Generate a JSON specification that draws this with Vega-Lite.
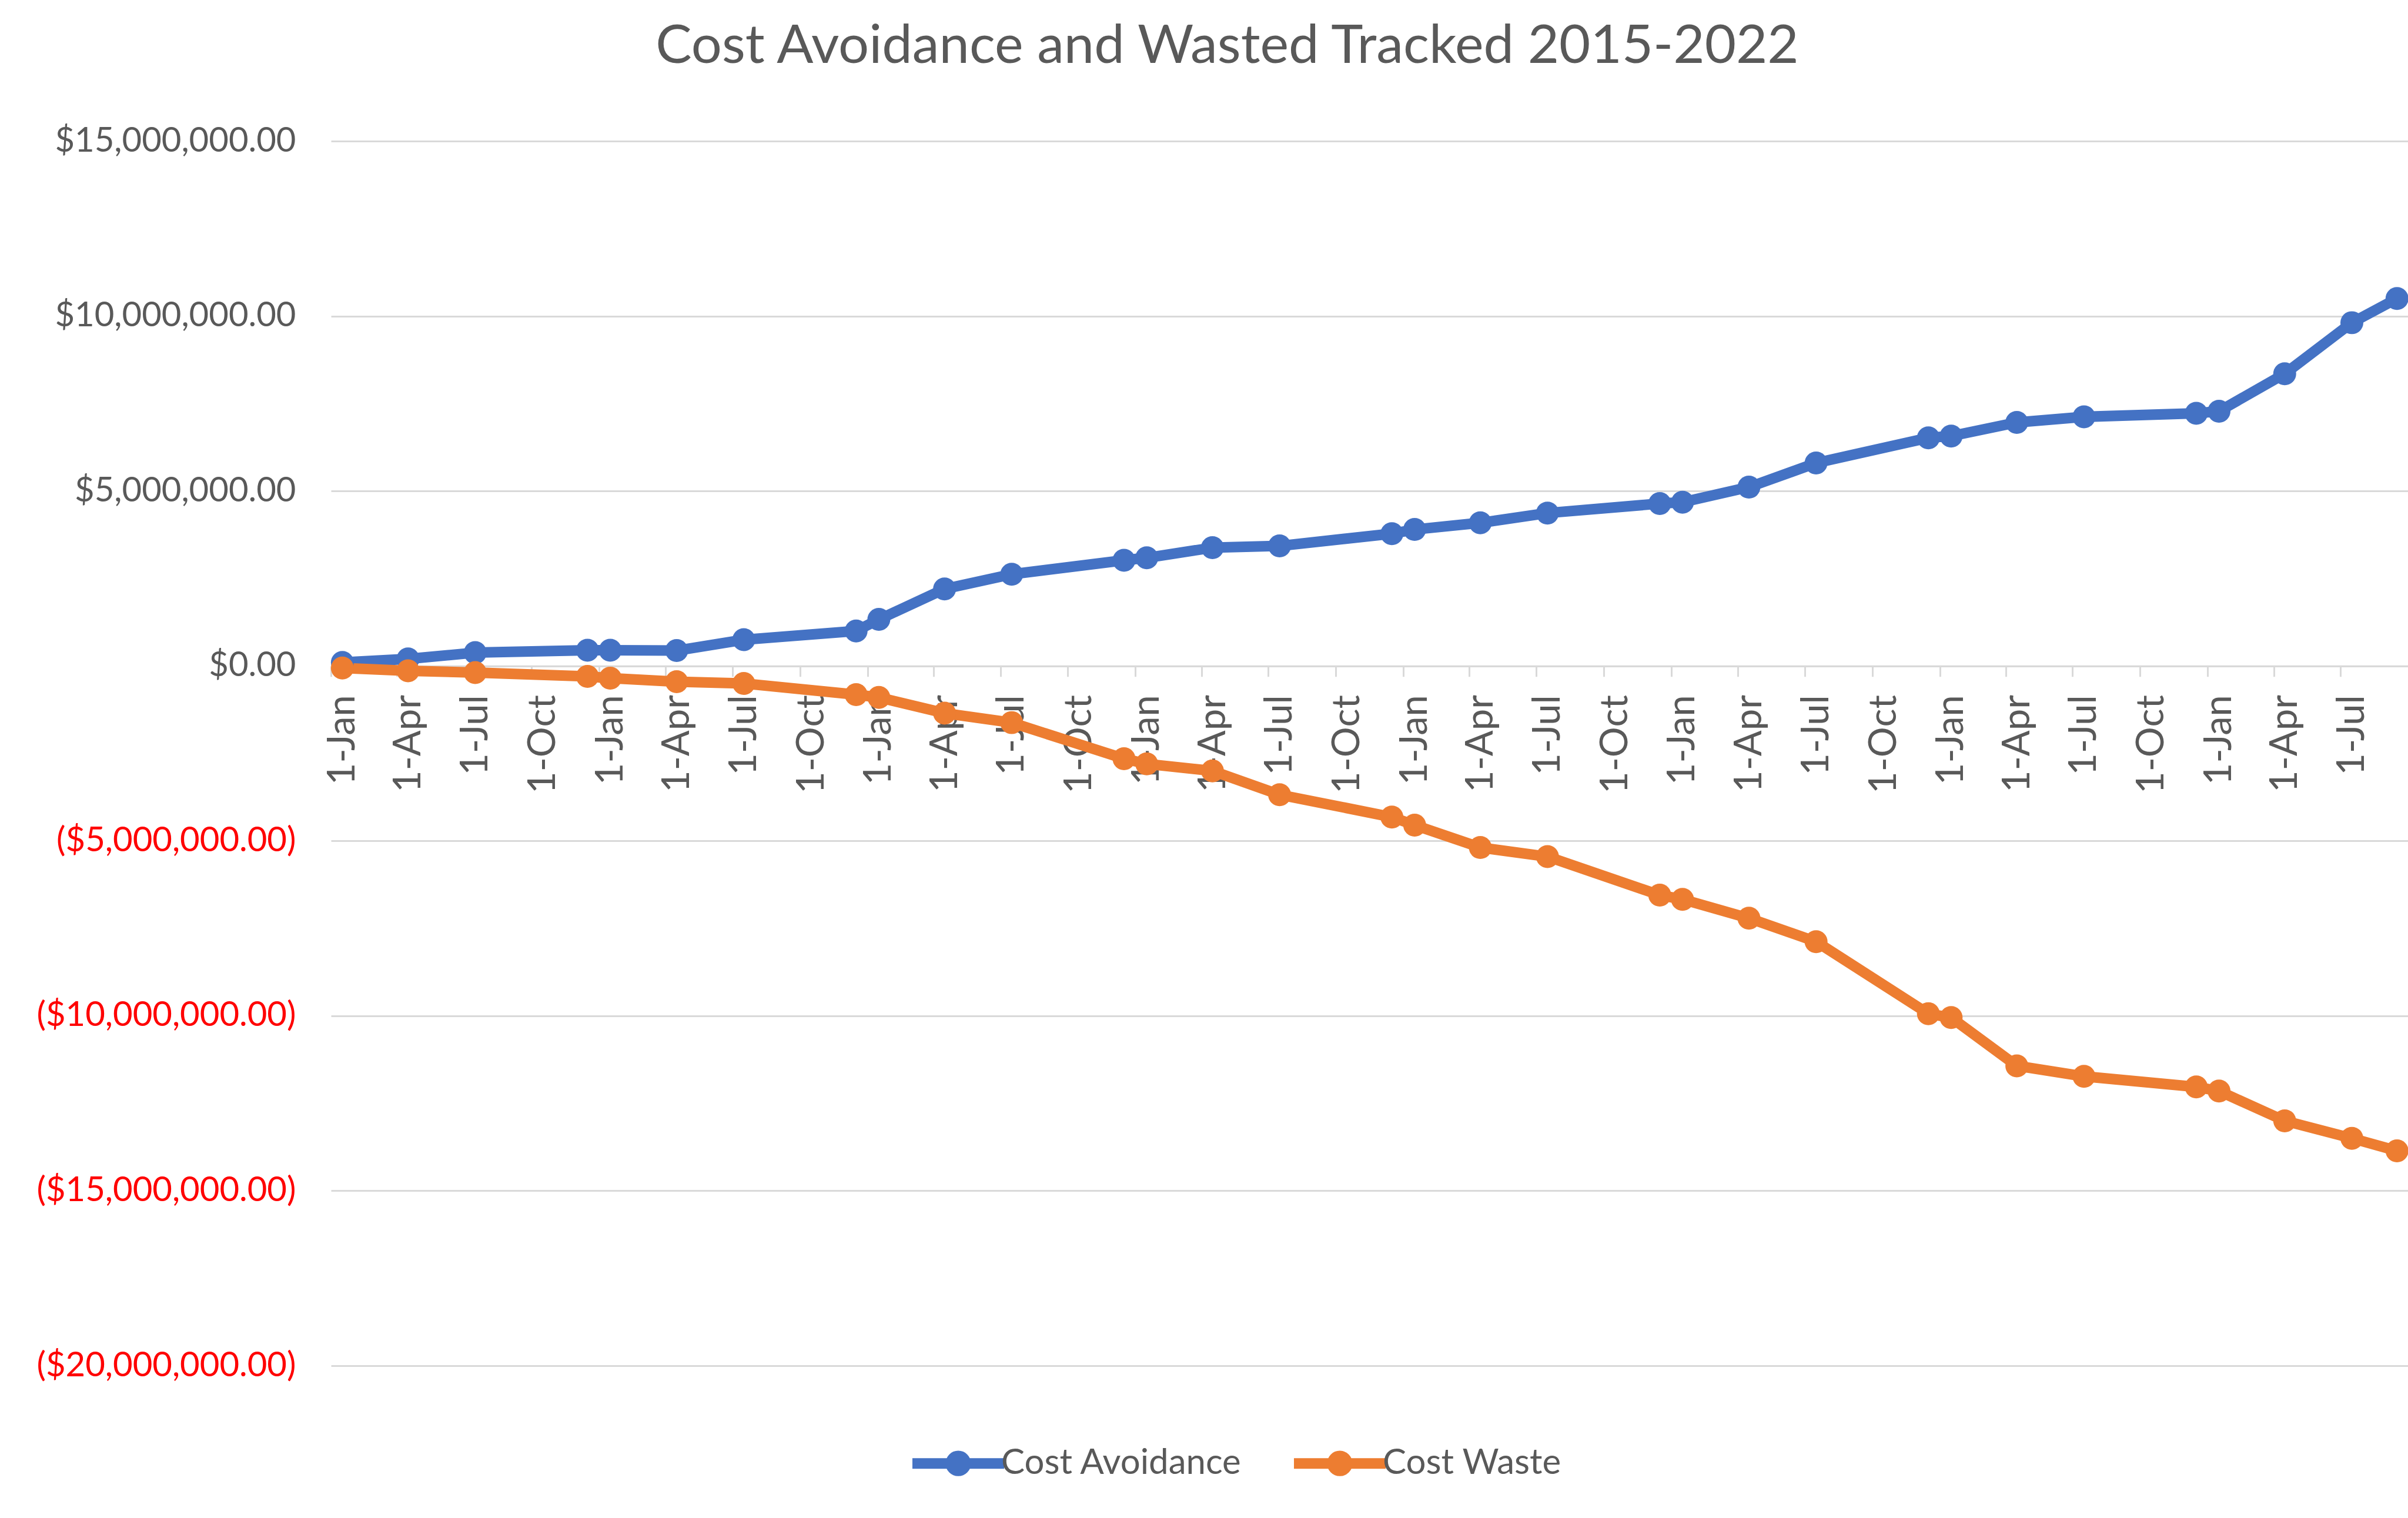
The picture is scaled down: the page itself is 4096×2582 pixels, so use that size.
{
  "$schema": "https://vega.github.io/schema/vega-lite/v6.json",
  "autosize": {"type": "none"},
  "padding": {"left": 563, "top": 240, "right": 0, "bottom": 259},
  "width": 3533,
  "height": 2083,
  "background": "white",
  "title": {
    "text": "Cost Avoidance and Wasted Tracked 2015-2022",
    "font": "Lato",
    "fontSize": 92,
    "fontWeight": "normal",
    "color": "#595959",
    "anchor": "middle",
    "baseline": "alphabetic",
    "dx": -242,
    "offset": 12,
    "limit": 0
  },
  "data": {
    "values": [
      {"date": "2015/01/01", "series": "Cost Avoidance", "value": 100000},
      {"date": "2015/04/01", "series": "Cost Avoidance", "value": 200000},
      {"date": "2015/07/01", "series": "Cost Avoidance", "value": 380000},
      {"date": "2015/12/01", "series": "Cost Avoidance", "value": 450000},
      {"date": "2016/01/01", "series": "Cost Avoidance", "value": 450000},
      {"date": "2016/04/01", "series": "Cost Avoidance", "value": 440000},
      {"date": "2016/07/01", "series": "Cost Avoidance", "value": 750000},
      {"date": "2016/12/01", "series": "Cost Avoidance", "value": 1000000},
      {"date": "2017/01/01", "series": "Cost Avoidance", "value": 1330000},
      {"date": "2017/04/01", "series": "Cost Avoidance", "value": 2200000},
      {"date": "2017/07/01", "series": "Cost Avoidance", "value": 2620000},
      {"date": "2017/12/01", "series": "Cost Avoidance", "value": 3020000},
      {"date": "2018/01/01", "series": "Cost Avoidance", "value": 3090000},
      {"date": "2018/04/01", "series": "Cost Avoidance", "value": 3380000},
      {"date": "2018/07/01", "series": "Cost Avoidance", "value": 3430000},
      {"date": "2018/12/01", "series": "Cost Avoidance", "value": 3780000},
      {"date": "2019/01/01", "series": "Cost Avoidance", "value": 3900000},
      {"date": "2019/04/01", "series": "Cost Avoidance", "value": 4090000},
      {"date": "2019/07/01", "series": "Cost Avoidance", "value": 4370000},
      {"date": "2019/12/01", "series": "Cost Avoidance", "value": 4640000},
      {"date": "2020/01/01", "series": "Cost Avoidance", "value": 4680000},
      {"date": "2020/04/01", "series": "Cost Avoidance", "value": 5110000},
      {"date": "2020/07/01", "series": "Cost Avoidance", "value": 5800000},
      {"date": "2020/12/01", "series": "Cost Avoidance", "value": 6520000},
      {"date": "2021/01/01", "series": "Cost Avoidance", "value": 6570000},
      {"date": "2021/04/01", "series": "Cost Avoidance", "value": 6960000},
      {"date": "2021/07/01", "series": "Cost Avoidance", "value": 7120000},
      {"date": "2021/12/01", "series": "Cost Avoidance", "value": 7220000},
      {"date": "2022/01/01", "series": "Cost Avoidance", "value": 7280000},
      {"date": "2022/04/01", "series": "Cost Avoidance", "value": 8350000},
      {"date": "2022/07/01", "series": "Cost Avoidance", "value": 9810000},
      {"date": "2022/09/01", "series": "Cost Avoidance", "value": 10500000},
      {"date": "2015/01/01", "series": "Cost Waste", "value": -60000},
      {"date": "2015/04/01", "series": "Cost Waste", "value": -140000},
      {"date": "2015/07/01", "series": "Cost Waste", "value": -190000},
      {"date": "2015/12/01", "series": "Cost Waste", "value": -300000},
      {"date": "2016/01/01", "series": "Cost Waste", "value": -350000},
      {"date": "2016/04/01", "series": "Cost Waste", "value": -450000},
      {"date": "2016/07/01", "series": "Cost Waste", "value": -500000},
      {"date": "2016/12/01", "series": "Cost Waste", "value": -820000},
      {"date": "2017/01/01", "series": "Cost Waste", "value": -900000},
      {"date": "2017/04/01", "series": "Cost Waste", "value": -1350000},
      {"date": "2017/07/01", "series": "Cost Waste", "value": -1620000},
      {"date": "2017/12/01", "series": "Cost Waste", "value": -2650000},
      {"date": "2018/01/01", "series": "Cost Waste", "value": -2800000},
      {"date": "2018/04/01", "series": "Cost Waste", "value": -3000000},
      {"date": "2018/07/01", "series": "Cost Waste", "value": -3680000},
      {"date": "2018/12/01", "series": "Cost Waste", "value": -4320000},
      {"date": "2019/01/01", "series": "Cost Waste", "value": -4550000},
      {"date": "2019/04/01", "series": "Cost Waste", "value": -5190000},
      {"date": "2019/07/01", "series": "Cost Waste", "value": -5450000},
      {"date": "2019/12/01", "series": "Cost Waste", "value": -6550000},
      {"date": "2020/01/01", "series": "Cost Waste", "value": -6670000},
      {"date": "2020/04/01", "series": "Cost Waste", "value": -7210000},
      {"date": "2020/07/01", "series": "Cost Waste", "value": -7880000},
      {"date": "2020/12/01", "series": "Cost Waste", "value": -9940000},
      {"date": "2021/01/01", "series": "Cost Waste", "value": -10050000},
      {"date": "2021/04/01", "series": "Cost Waste", "value": -11430000},
      {"date": "2021/07/01", "series": "Cost Waste", "value": -11730000},
      {"date": "2021/12/01", "series": "Cost Waste", "value": -12030000},
      {"date": "2022/01/01", "series": "Cost Waste", "value": -12150000},
      {"date": "2022/04/01", "series": "Cost Waste", "value": -13000000},
      {"date": "2022/07/01", "series": "Cost Waste", "value": -13500000},
      {"date": "2022/09/01", "series": "Cost Waste", "value": -13860000}
    ]
  },
  "mark": {
    "type": "line",
    "strokeWidth": 18,
    "strokeJoin": "round",
    "strokeCap": "round",
    "point": {"filled": true, "size": 1520, "opacity": 1}
  },
  "encoding": {
    "x": {
      "field": "date",
      "type": "temporal",
      "timeUnit": "yearmonth",
      "bandPosition": 0.5,
      "scale": {
        "domain": [{"year": 2015, "month": 1, "date": 1}, {"year": 2022, "month": 10, "date": 1}],
        "nice": false
      },
      "axis": {
        "title": null,
        "orient": "bottom",
        "offset": -1190.3,
        "values": [
          {"year": 2015, "month": 1, "date": 1}, {"year": 2015, "month": 4, "date": 1}, {"year": 2015, "month": 7, "date": 1}, {"year": 2015, "month": 10, "date": 1},
          {"year": 2016, "month": 1, "date": 1}, {"year": 2016, "month": 4, "date": 1}, {"year": 2016, "month": 7, "date": 1}, {"year": 2016, "month": 10, "date": 1},
          {"year": 2017, "month": 1, "date": 1}, {"year": 2017, "month": 4, "date": 1}, {"year": 2017, "month": 7, "date": 1}, {"year": 2017, "month": 10, "date": 1},
          {"year": 2018, "month": 1, "date": 1}, {"year": 2018, "month": 4, "date": 1}, {"year": 2018, "month": 7, "date": 1}, {"year": 2018, "month": 10, "date": 1},
          {"year": 2019, "month": 1, "date": 1}, {"year": 2019, "month": 4, "date": 1}, {"year": 2019, "month": 7, "date": 1}, {"year": 2019, "month": 10, "date": 1},
          {"year": 2020, "month": 1, "date": 1}, {"year": 2020, "month": 4, "date": 1}, {"year": 2020, "month": 7, "date": 1}, {"year": 2020, "month": 10, "date": 1},
          {"year": 2021, "month": 1, "date": 1}, {"year": 2021, "month": 4, "date": 1}, {"year": 2021, "month": 7, "date": 1}, {"year": 2021, "month": 10, "date": 1},
          {"year": 2022, "month": 1, "date": 1}, {"year": 2022, "month": 4, "date": 1}, {"year": 2022, "month": 7, "date": 1}
        ],
        "format": "%-d-%b",
        "formatType": "time",
        "labelAngle": -90,
        "labelAlign": "right",
        "labelBaseline": "middle",
        "labelOffset": 19.4,
        "labelPadding": 31,
        "labelFont": "Lato",
        "labelFontSize": 65,
        "labelColor": "#595959",
        "labelOverlap": false,
        "labelFlush": false,
        "labelBound": false,
        "labelLimit": 0,
        "grid": false,
        "domain": true,
        "domainColor": "#D9D9D9",
        "domainWidth": 3,
        "ticks": true,
        "tickColor": "#D9D9D9",
        "tickWidth": 3,
        "tickSize": 18
      }
    },
    "y": {
      "field": "value",
      "type": "quantitative",
      "scale": {"domain": [-20000000, 15000000], "nice": false, "zero": false},
      "axis": {
        "title": null,
        "values": [-20000000, -15000000, -10000000, -5000000, 0, 5000000, 10000000, 15000000],
        "labelExpr": "datum.value < 0 ? '($' + format(-datum.value, ',.2f') + ')' : '$' + format(datum.value, ',.2f') + '\u2009\u200A'",
        "labelFont": "Lato",
        "labelFontSize": 58,
        "labelLimit": 0,
        "labelColor": {"condition": {"test": "datum.value < 0", "value": "#FF0000"}, "value": "#595959"},
        "labelPadding": 60,
        "domain": false,
        "ticks": false,
        "grid": true,
        "gridColor": "#D9D9D9",
        "gridWidth": 3
      }
    },
    "color": {
      "field": "series",
      "type": "nominal",
      "scale": {"domain": ["Cost Avoidance", "Cost Waste"], "range": ["#4472C4", "#ED7D31"]},
      "legend": {
        "title": null,
        "orient": "none",
        "direction": "horizontal",
        "legendX": 980,
        "legendY": 2210,
        "padding": 0,
        "symbolType": "M-2.6,0L2.6,0M0.42,0A0.42,0.42,0,1,1,-0.42,0A0.42,0.42,0,1,1,0.42,0Z",
        "symbolSize": 3600,
        "symbolStrokeWidth": 18,
        "symbolOffset": 48,
        "labelOffset": 34,
        "columnPadding": 52,
        "labelFont": "Lato",
        "labelFontSize": 60,
        "labelLimit": 0,
        "labelColor": "#595959",
        "labelBaseline": "middle",
        "encode": {
          "symbols": {
            "update": {
              "fill": {"value": "transparent"},
              "stroke": {"scale": "color", "field": "value"},
              "strokeWidth": {"value": 18},
              "opacity": {"value": 1}
            }
          }
        }
      }
    }
  },
  "config": {
    "view": {"stroke": null},
    "font": "Lato"
  }
}
